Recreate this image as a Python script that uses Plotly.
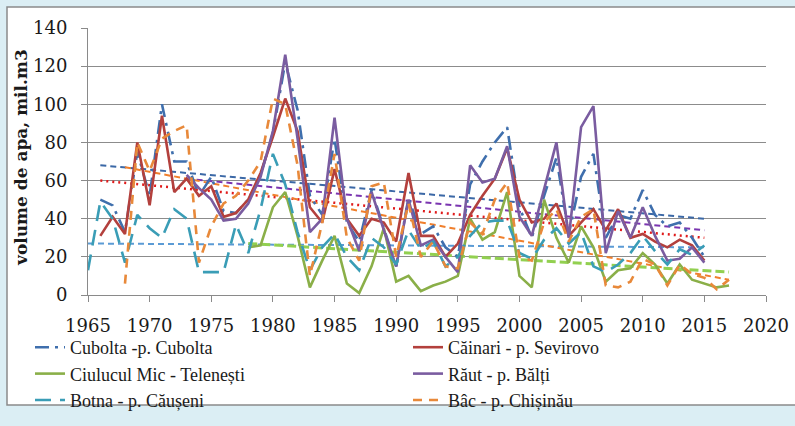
import plotly.graph_objects as go

# ---------------- data ----------------
years_cubolta = list(range(1966, 2016))
cubolta = [50, 47, 33, 75, 52, 100, 70, 70, 52, 62, 44, 43, 50, 63, 85, 122, 97, 52, 42, 82,
           38, 28, 55, 35, 15, 51, 32, 36, 25, 20, 58, 70, 80, 88, 46, 30, 52, 72, 32, 62,
           74, 30, 42, 40, 55, 42, 36, 38, 30, 20]

years_cainari = list(range(1966, 2016))
cainari = [31, 41, 32, 80, 47, 94, 54, 61, 52, 57, 41, 43, 50, 64, 83, 103, 86, 46, 38, 66,
           40, 31, 40, 38, 28, 64, 31, 31, 20, 27, 42, 52, 61, 77, 50, 38, 40, 48, 31, 38,
           45, 34, 45, 30, 32, 28, 25, 29, 26, 18]

years_ciulucul = list(range(1978, 2018))
ciulucul = [25, 26, 46, 54, 31, 4, 18, 31, 6, 1, 15, 35, 7, 10, 2, 5, 7, 10, 40, 29,
            33, 54, 10, 4, 50, 30, 17, 36, 25, 7, 13, 14, 22, 16, 6, 16, 8, 6, 4, 5]

years_raut = list(range(1973, 2016))
raut = [63, 56, 50, 39, 40, 48, 62, 86, 126, 82, 33, 40, 93, 40, 23, 54, 34, 15, 50, 26,
        29, 20, 12, 68, 59, 61, 78, 41, 31, 55, 80, 30, 88, 99, 22, 44, 30, 46, 31, 18,
        19, 25, 17]

years_botna = list(range(1965, 2016))
botna = [13, 49, 40, 17, 42, 35, 30, 45, 40, 12, 12, 12, 37, 22, 45, 74, 58, 33, 13, 25,
         32, 20, 13, 30, 25, 16, 34, 24, 28, 15, 20, 31, 38, 39, 39, 22, 19, 29, 35, 27,
         33, 15, 12, 16, 22, 31, 23, 16, 24, 21, 26]

years_bac = list(range(1968, 2018))
bac = [6, 80, 65, 82, 86, 89, 17, 36, 48, 52, 60, 70, 103, 100, 68, 10, 38, 74, 30, 18,
       57, 59, 20, 48, 20, 28, 15, 14, 38, 32, 50, 59, 20, 18, 38, 45, 28, 41, 45, 5,
       4, 7, 19, 16, 5, 16, 11, 9, 3, 8]

# linear trend end points: (start year, end year, start value, end value)
trend_cubolta = [1966, 2015, 68, 40]
trend_cainari = [1966, 2015, 60, 30]
trend_ciulucul = [1978, 2017, 27, 12]
trend_raut = [1973, 2015, 61, 34]
trend_botna = [1965, 2015, 27, 25]
trend_bac = [1968, 2017, 67, 8]

names = ["Cubolta -p. Cubolta", "Căinari - p. Sevirovo", "Ciulucul Mic - Telenești",
         "Răut - p. Bălți", "Botna - p. Căușeni", "Bâc - p. Chișinău"]

x_ticks = list(range(1965, 2021, 5))
y_ticks = list(range(0, 141, 20))

# ---------------- figure ----------------
fig = go.Figure()

trends = [
    (trend_cubolta, "#3B68A6", "6px,4px", 2),
    (trend_cainari, "#E01B1B", "2px,4px", 2.5),
    (trend_raut, "#7A35B0", "6px,4px", 2),
    (trend_botna, "#5B9BD5", "6px,4px", 2),
    (trend_bac, "#F07F2C", "6px,4px", 2),
    (trend_ciulucul, "#92D050", "9px,4px", 3),
]
for t, col, dash, w in trends:
    fig.add_trace(go.Scatter(x=[t[0], t[1]], y=[t[2], t[3]], mode="lines",
                             line=dict(color=col, width=w, dash=dash),
                             showlegend=False, hoverinfo="skip"))

series = [
    (years_cubolta, cubolta, names[0], "#3F6FAD", "14px,6px,3px,6px", "legend"),
    (years_cainari, cainari, names[1], "#B3403D", "solid", "legend2"),
    (years_ciulucul, ciulucul, names[2], "#8AAF48", "solid", "legend"),
    (years_raut, raut, names[3], "#7A5CA0", "solid", "legend2"),
    (years_botna, botna, names[4], "#3A9DB6", "16px,9px", "legend"),
    (years_bac, bac, names[5], "#E8893A", "9px,7px", "legend2"),
]
for xs, ys, nm, col, dash, lg in series:
    fig.add_trace(go.Scatter(x=xs, y=ys, mode="lines", name=nm, legend=lg,
                             line=dict(color=col, width=2.6, dash=dash)))

W, H = 795, 426
L, R, T, B = 88, 29, 28, 131
pw, ph = W - L - R, H - T - B

def px(xpix):
    return (xpix - L) / pw

def py(ypix):
    return (H - B - ypix) / ph

fig.add_shape(type="rect", xref="paper", yref="paper",
              x0=px(7), x1=px(805), y0=py(405), y1=py(7),
              fillcolor="white", line=dict(color="#8a8a8a", width=1.5), layer="below")

fig.add_annotation(text="<b>volume de apa, mil.m3</b>", xref="paper", yref="paper",
                   x=px(21), y=py(158), textangle=-90, showarrow=False,
                   font=dict(family="DejaVu Serif", size=17, color="#1a1a1a"),
                   xanchor="center", yanchor="middle")

legend_common = dict(orientation="v", xref="container", yref="container",
                     xanchor="left", yanchor="top", tracegroupgap=0,
                     font=dict(family="Liberation Serif", size=18, color="#1a1a1a"),
                     bgcolor="rgba(0,0,0,0)", itemwidth=30)

fig.update_layout(
    width=W, height=H,
    margin=dict(l=L, r=R, t=T, b=B, pad=0, autoexpand=False),
    paper_bgcolor="#DBEEF4",
    plot_bgcolor="rgba(0,0,0,0)",
    font=dict(family="DejaVu Serif", color="#1a1a1a"),
    showlegend=True,
    legend=dict(x=30 / W, y=(H - 329) / H, **legend_common),
    legend2=dict(x=408 / W, y=(H - 329) / H, **legend_common),
    xaxis=dict(range=[1965, 2020], tickvals=x_ticks, ticktext=[str(v) for v in x_ticks],
               showgrid=False, zeroline=False, showline=True, linecolor="#8a8a8a",
               linewidth=1, ticks="outside", ticklen=6, tickcolor="#8a8a8a",
               tickfont=dict(family="DejaVu Serif", size=18, color="#1a1a1a"),
               ticklabelstandoff=8),
    yaxis=dict(range=[0, 140], tickvals=y_ticks, showgrid=True, gridcolor="#8c8c8c",
               gridwidth=1, zeroline=False, showline=True, linecolor="#8a8a8a",
               linewidth=1, ticks="outside", ticklen=6, tickcolor="#8a8a8a",
               tickfont=dict(family="DejaVu Serif", size=18, color="#1a1a1a"),
               ticklabelstandoff=10),
)

fig.write_html("out.html", config={"displayModeBar": False},
               post_script="document.body.style.margin='0';"
                           "document.body.style.overflow='hidden';"
                           "document.body.style.background='#DBEEF4';")
